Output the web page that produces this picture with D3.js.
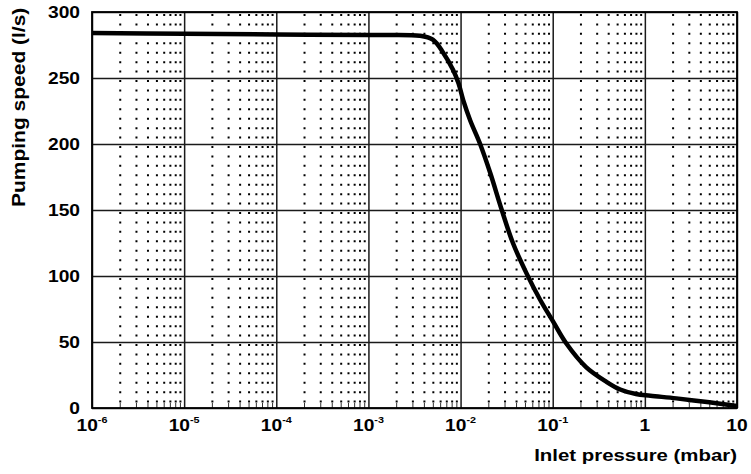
<!DOCTYPE html>
<html>
<head>
<meta charset="utf-8">
<script src="https://cdn.jsdelivr.net/npm/d3@7"></script>
<style>
  html, body { margin: 0; padding: 0; background: #fff; }
  svg { display: block; }
  text { font-family: "Liberation Sans", Arial, sans-serif; font-weight: bold; fill: #000; }
</style>
</head>
<body>
<svg id="chart" width="751" height="474"></svg>
<script>
// ---- data ----
const pressure = [1e-6, 1e-5, 1e-4, 1e-3, 0.0036, 0.0050, 0.0065, 0.0083, 0.0095, 0.0107, 0.0127, 0.0163, 0.021, 0.028, 0.037, 0.052, 0.073, 0.10, 0.14, 0.23, 0.38, 0.54, 0.80, 1.15, 2.2, 5.0, 10];
const speed    = [284, 283.5, 283, 282.5, 282, 279, 269, 256, 246, 233, 218, 200, 178, 150, 125, 102, 82, 66, 49, 31, 20, 14, 10.6, 9.3, 7.3, 4.3, 1.5];
const xTickValues = [1e-6, 1e-5, 1e-4, 1e-3, 1e-2, 1e-1, 1, 10];
const xTickBase   = ["10", "10", "10", "10", "10", "10", "1", "10"];
const xTickExp    = ["-6", "-5", "-4", "-3", "-2", "-1", "", ""];
const yTickValues = [0, 50, 100, 150, 200, 250, 300];
const xTitle = "Inlet pressure (mbar)";
const yTitle = "Pumping speed (l/s)";

// ---- layout ----
const L = 92, R = 737, T = 12, B = 408;
const svg = d3.select("#chart");
const x = d3.scaleLog().domain([1e-6, 10]).range([L, R]);
const y = d3.scaleLinear().domain([0, 300]).range([B, T]);

const minor = [];
for (let e = -6; e <= 0; e++) for (let k = 2; k <= 9; k++) minor.push(k * Math.pow(10, e));

// dotted minor verticals
const gMinor = svg.append("g").attr("transform", `translate(0,${B})`)
  .call(d3.axisBottom(x).tickValues(minor).tickSize(-(B - T - 2)).tickFormat(""));
gMinor.select(".domain").remove();
gMinor.selectAll(".tick line")
  .attr("stroke", "#000").attr("stroke-width", 2)
  .attr("y1", -(B - T - 2)).attr("y2", 0)
  .attr("stroke-dasharray", `2 ${66/7 - 2}`);

// minor tick marks at bottom
const gMinT = svg.append("g").attr("transform", `translate(0,${B})`)
  .call(d3.axisBottom(x).tickValues(minor).tickSize(-5).tickFormat(""));
gMinT.select(".domain").remove();
gMinT.selectAll(".tick line").attr("stroke", "#333").attr("stroke-width", 1);

// major grid verticals
const gMajX = svg.append("g").attr("transform", `translate(0,${B})`)
  .call(d3.axisBottom(x).tickValues(xTickValues).tickSize(-(B - T)).tickFormat(""));
gMajX.select(".domain").remove();
gMajX.selectAll(".tick line").attr("stroke", "#1a1a1a").attr("stroke-width", 1.5);

// major grid horizontals
const gMajY = svg.append("g").attr("transform", `translate(${L},0)`)
  .call(d3.axisLeft(y).tickValues(yTickValues).tickSize(-(R - L)).tickFormat(""));
gMajY.select(".domain").remove();
gMajY.selectAll(".tick line").attr("stroke", "#1a1a1a").attr("stroke-width", 1.5);

// frame
svg.append("rect").attr("x", L).attr("y", T).attr("width", R - L).attr("height", B - T)
  .attr("fill", "none").attr("stroke", "#000").attr("stroke-width", 1.8);

// curve
const pts = pressure.map((p, i) => [p, speed[i]]);
svg.append("path").datum(pts)
  .attr("fill", "none").attr("stroke", "#000").attr("stroke-width", 4.5)
  .attr("stroke-linejoin", "round").attr("stroke-linecap", "butt")
  .attr("d", d3.line().x(d => x(d[0])).y(d => y(d[1])).curve(d3.curveCatmullRom.alpha(0.5)));

// y tick labels
const SX = 1.2;
const yl = svg.append("g");
yTickValues.forEach(v => {
  yl.append("g").attr("transform", `translate(80,${y(v)}) scale(${SX},1)`)
    .append("text").attr("text-anchor", "end").attr("dy", "0.36em")
    .attr("font-size", 16).text(v);
});

// x tick labels
const xl = svg.append("g");
xTickValues.forEach((v, i) => {
  const t = xl.append("g").attr("transform", `translate(${x(v)},431) scale(${SX},1)`)
    .append("text").attr("text-anchor", "middle").attr("font-size", 16);
  t.append("tspan").text(xTickBase[i]);
  if (xTickExp[i]) t.append("tspan").attr("font-size", 9).attr("dy", -8).text(xTickExp[i]);
});

// axis titles
svg.append("g").attr("transform", `translate(737,461) scale(${SX},1)`)
  .append("text").attr("text-anchor", "end").attr("font-size", 17).text(xTitle);
svg.append("g").attr("transform", `translate(25,207) rotate(-90) scale(${SX},1)`)
  .append("text").attr("text-anchor", "start").attr("font-size", 17.5).text(yTitle);
</script>
</body>
</html>
